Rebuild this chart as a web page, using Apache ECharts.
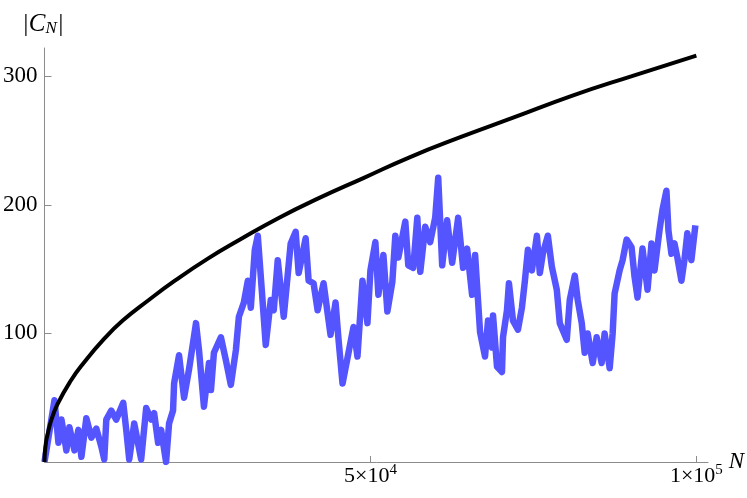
<!DOCTYPE html>
<html>
<head>
<meta charset="utf-8">
<script src="https://cdn.jsdelivr.net/npm/echarts@6/dist/echarts.min.js"></script>
<style>
  html, body { margin: 0; padding: 0; background: #fff; }
  #main_chart { width: 747px; height: 498px; }
</style>
</head>
<body>
<div id="main_chart"></div>
<script>
// random walk |C_N|
var walkN = [0, 1530, 2140, 2600, 3360, 3820, 4590, 5200, 5660, 6420, 7190, 7950, 8720, 9170, 9480,
    10240, 11010, 12080, 12540, 13000, 13760, 14830, 15600, 16360, 16820, 17430, 17890, 18650, 19110,
    19720, 19880, 20640, 21410, 22170, 23240, 23700, 24460, 25230, 25540, 25990, 27060, 27830, 28590,
    29360, 29820, 30580, 31190, 31650, 32260, 32720, 33330, 33940, 34710, 35170, 35780, 36700, 37770,
    38530, 38990, 40060, 40520, 41280, 41900, 42810, 43880, 44650, 45110, 45720, 46640, 47400, 48010,
    48780, 49540, 50000, 50760, 51220, 51990, 52600, 53360, 53820, 54280, 55350, 55810, 56570, 57190,
    57650, 58410, 59170, 59940, 60400, 61010, 61770, 62540, 63460, 64220, 64830, 65600, 66060, 66820,
    67580, 68040, 68650, 68810, 69420, 70180, 70340, 70950, 71250, 71870, 72630, 73240, 73700, 74160,
    74770, 75540, 75990, 76450, 77220, 77830, 78590, 79050, 80120, 80580, 81350, 81800, 82420, 82870,
    83330, 84100, 84710, 85470, 85930, 86700, 87160, 87460, 88230, 88690, 89300, 90060, 90520, 90980,
    91740, 92510, 93120, 93580, 94340, 94800, 95410, 95720, 96180, 96640, 97090, 97710, 98170, 98620,
    99240, 99850];
var walkC = [0, 48, 15, 33, 9, 27, 9, 25, 4, 34, 19, 26, 12, 2, 33,
    40, 33, 46, 25, 2, 30, 2, 42, 33, 38, 15, 25, 0, 30,
    40, 61, 83, 50, 72, 108, 87, 43, 77, 56, 85, 97, 79, 60,
    87, 113, 124, 141, 120, 165, 176, 134, 91, 126, 118, 157, 113, 170,
    179, 147, 174, 141, 139, 118, 139, 99, 124, 95, 61, 85, 105, 82,
    141, 108, 149, 171, 130, 161, 117, 140, 176, 159, 187, 153, 151, 190,
    148, 183, 171, 190, 221, 153, 188, 155, 190, 151, 166, 130, 161, 101,
    82, 110, 89, 114, 74, 70, 97, 118, 139, 110, 103, 120, 141, 165,
    149, 176, 147, 162, 176, 152, 134, 108, 95, 126, 145, 126, 108, 85,
    100, 77, 97, 77, 100, 73, 100, 131, 149, 157, 173, 167, 144, 128,
    166, 134, 170, 149, 180, 196, 211, 180, 162, 170, 159, 141, 157, 178,
    157, 184];

// upper envelope curve
var curveN = [0, 50, 250, 500, 1000, 2000, 4000, 6000, 9000, 12000, 16000, 20000, 25000, 30000,
    36000, 42000, 49000, 56000, 64000, 72000, 81000, 90000, 100000];
var curveC = [0, 7, 16, 22, 32, 45, 63, 77, 95, 110, 126, 141, 158, 173,
    190, 205, 221, 237, 253, 268, 285, 300, 316];

var xTicks = [50000, 100000];
var yTicks = [100, 200, 300];
var xTickLabels = {50000: '{b|5×10}{s|4}', 100000: '{b|1×10}{s|5}'};

function pairs(xs, ys) {
    var out = [];
    for (var i = 0; i < xs.length; i++) {
        out.push([xs[i], ys[i]]);
    }
    return out;
}

var serif = '"Liberation Serif", "DejaVu Serif", serif';
var axisGray = '#8c8c8c';

var option = {
    animation: false,
    backgroundColor: '#fff',
    grid: {
        left: 43,
        right: 38,
        top: 48,
        bottom: 36
    },
    title: {
        text: '{c||C}{n|N}{c||}',
        left: 17,
        top: 6,
        textStyle: {
            fontWeight: 'normal',
            rich: {
                c: { fontFamily: serif, fontSize: 25, fontStyle: 'italic', fontWeight: 'normal', color: '#000' },
                n: { fontFamily: serif, fontSize: 17, fontStyle: 'italic', fontWeight: 'normal', color: '#000', padding: [9, 0, 0, 0] }
            }
        }
    },
    xAxis: {
        type: 'value',
        min: 0,
        max: 101800,
        name: 'N',
        nameLocation: 'end',
        nameGap: 16,
        nameTextStyle: {
            fontFamily: serif, fontSize: 23, fontStyle: 'italic', color: '#000',
            padding: [0, 0, 12, 0]
        },
        axisLine: { lineStyle: { color: axisGray, width: 1 } },
        axisTick: {
            show: true, inside: true, length: 6,
            customValues: xTicks,
            lineStyle: { color: axisGray }
        },
        axisLabel: {
            customValues: xTicks,
            margin: 1,
            formatter: function (v) { return xTickLabels[v] || ''; },
            rich: {
                b: { fontFamily: serif, fontSize: 22, color: '#000' },
                s: { fontFamily: serif, fontSize: 15, color: '#000', padding: [0, 0, 11, 0] }
            }
        },
        splitLine: { show: false }
    },
    yAxis: {
        type: 'value',
        min: 0,
        max: 322,
        axisLine: { show: true, lineStyle: { color: axisGray, width: 1 } },
        axisTick: {
            show: true, inside: true, length: 7,
            customValues: yTicks,
            lineStyle: { color: axisGray }
        },
        axisLabel: {
            customValues: yTicks,
            margin: 7,
            fontFamily: serif,
            fontSize: 23,
            color: '#000'
        },
        splitLine: { show: false }
    },
    series: [{
        type: 'line',
        data: pairs(walkN, walkC),
        showSymbol: false,
        lineStyle: { color: '#5555ff', width: 6.5, join: 'round' },
        z: 2
    }, {
        type: 'line',
        data: pairs(curveN, curveC),
        smooth: true,
        showSymbol: false,
        lineStyle: { color: '#000', width: 4 },
        z: 3
    }]
};
echarts.init(document.getElementById('main_chart')).setOption(option);
</script>
</body>
</html>
